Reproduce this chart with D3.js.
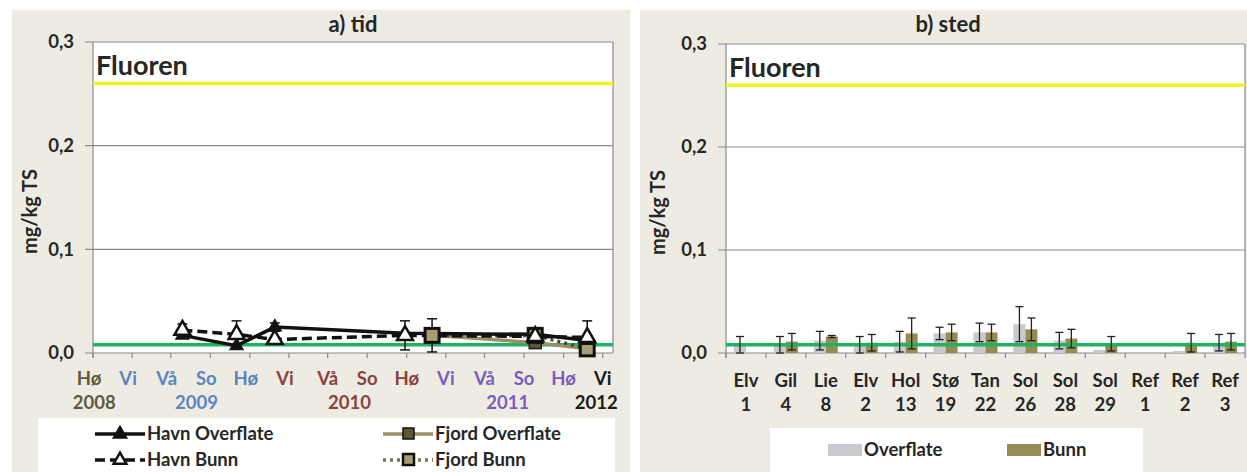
<!DOCTYPE html>
<html><head><meta charset="utf-8">
<script src="https://cdn.jsdelivr.net/npm/d3@7"></script>
<style>
body{margin:0;background:#fff;}
text{font-family:Lato,"Open Sans",sans-serif;font-weight:bold;}
</style>
</head><body>
<svg id="c" width="1247" height="472"></svg>
<script>
// ---------- shared ----------
const yTicks = [0, 0.1, 0.2, 0.3];
const yTickLabels = ["0,0", "0,1", "0,2", "0,3"];
const upperLimit = 0.26;   // yellow line
const lowerLimit = 0.008;  // green line
const chartLabel = "Fluoren";
const yTitle = "mg/kg TS";

// ---------- a) tid ----------
const seasonTickDates = ["2008-09-01","2008-12-01","2009-03-01","2009-06-01","2009-09-01","2009-12-01","2010-03-01","2010-06-01","2010-09-01","2010-12-01","2011-03-01","2011-06-01","2011-09-01","2011-12-01"];
const seasonLabels = ["Hø","Vi","Vå","So","Hø","Vi","Vå","So","Hø","Vi","Vå","So","Hø","Vi"];
const seasonYear = [0,1,1,1,1,2,2,2,2,3,3,3,3,4];
const yearLabels = ["2008","2009","2010","2011","2012"];
const yearLabelDates = ["2008-09-04","2009-04-30","2010-04-21","2011-04-24","2011-11-16"];
const yearColors = ["#5c5a3e","#5a86bf","#8a4240","#7d5cbf","#1a1a1a"];

const havnDates = ["2009-03-28","2009-08-01","2009-10-29","2010-08-28","2011-06-27","2011-10-26"];
const havnOverflate = [0.017, 0.007, 0.025, 0.019, 0.018, 0.012];
const havnOverflateErr = [0, 0, 0.004, 0, 0, 0];
const havnBunn = [0.022, 0.018, 0.013, 0.017, 0.016, 0.015];
const havnBunnErr = [0.006, 0.013, 0, 0.014, 0, 0.016];
const fjordDates = ["2010-10-30","2011-06-27","2011-10-26"];
const fjordOverflate = [0.017, 0.010, 0.004];
const fjordBunn = [0.017, 0.017, 0.004];
const fjordBunnErr = [0.016, 0.001, 0.001];

// ---------- b) sted ----------
const stedNames = ["Elv","Gil","Lie","Elv","Hol","Stø","Tan","Sol","Sol","Sol","Ref","Ref","Ref"];
const stedNums  = ["1","4","8","2","13","19","22","26","28","29","1","2","3"];
const overflate    = [0.008, 0.008, 0.012, 0.008, 0.011, 0.019, 0.020, 0.028, 0.012, 0.003, null, 0.002, 0.010];
const overflateErr = [0.008, 0.008, 0.009, 0.008, 0.010, 0.006, 0.009, 0.017, 0.008, 0, 0, 0, 0.008];
const bunn         = [null, 0.011, 0.016, 0.010, 0.019, 0.020, 0.020, 0.023, 0.014, 0.009, null, 0.010, 0.011];
const bunnErr      = [0, 0.008, 0.001, 0.008, 0.015, 0.008, 0.008, 0.011, 0.009, 0.007, 0, 0.009, 0.008];

const svg = d3.select("#c");
const parse = d3.timeParse("%Y-%m-%d");
const GRID = "#8a8a8a", BG = "#eeece2", INK = "#262626";
const FS = 18.5;

function panelFrame(px, pw, x0, x1, y, title, titleX) {
  svg.append("rect").attr("x", px).attr("y", 10).attr("width", pw).attr("height", 462).attr("fill", BG);
  svg.append("rect").attr("x", x0).attr("y", y(0.3)).attr("width", x1 - x0).attr("height", y(0) - y(0.3)).attr("fill", "#fff");
  const g = svg.append("g");
  g.selectAll("line.grid").data(yTicks).join("line")
    .attr("x1", x0 - 8).attr("x2", x1).attr("y1", d => y(d)).attr("y2", d => y(d))
    .attr("stroke", GRID).attr("stroke-width", 1.2);
  g.append("line").attr("x1", x0).attr("x2", x0).attr("y1", y(0.3)).attr("y2", y(0) + 5).attr("stroke", GRID).attr("stroke-width", 1.2);
  g.append("line").attr("x1", x1).attr("x2", x1).attr("y1", y(0.3)).attr("y2", y(0)).attr("stroke", GRID).attr("stroke-width", 1.2);
  g.selectAll("text.yt").data(yTicks).join("text")
    .attr("x", x0 - 19).attr("y", d => y(d)).attr("dy", "0.35em").attr("text-anchor", "end")
    .attr("font-size", FS).attr("fill", INK).text((d, i) => yTickLabels[i]);
  g.append("text").attr("transform", `translate(${px + 18},${(y(0.3) + y(0)) / 2 + 14}) rotate(-90)`)
    .attr("text-anchor", "middle").attr("dy", "0.35em").attr("font-size", 20).attr("fill", INK).text(yTitle);
  g.append("text").attr("x", titleX).attr("y", 32).attr("text-anchor", "middle").attr("font-size", 22).attr("fill", INK).text(title);
  g.append("line").attr("x1", x0).attr("x2", x1).attr("y1", y(upperLimit)).attr("y2", y(upperLimit)).attr("stroke", "#f2f21e").attr("stroke-width", 3.5);
  g.append("text").attr("x", x0 + 3).attr("y", y(upperLimit) - 8).attr("font-size", 27).attr("fill", INK).text(chartLabel);
}

// ================= LEFT =================
const xT = d3.scaleTime().domain([parse("2008-09-01"), parse("2011-12-25")]).range([93, 613]);
const yL = d3.scaleLinear().domain([0, 0.3]).range([353, 42]);
panelFrame(12, 618, 93, 613, yL, "a) tid", 353);

const gl = svg.append("g");
gl.selectAll("line.xt").data(seasonTickDates).join("line")
  .attr("x1", d => xT(parse(d))).attr("x2", d => xT(parse(d)))
  .attr("y1", yL(0)).attr("y2", yL(0) + 5).attr("stroke", GRID).attr("stroke-width", 1.2);
gl.selectAll("text.sl").data(seasonLabels).join("text")
  .attr("x", (d, i) => xT(parse(seasonTickDates[i])) - (i < 6 ? 4 : 0)).attr("y", 385)
  .attr("text-anchor", "middle").attr("font-size", FS)
  .attr("fill", (d, i) => yearColors[seasonYear[i]]).text(d => d);
gl.selectAll("text.yl").data(yearLabels).join("text")
  .attr("x", (d, i) => xT(parse(yearLabelDates[i]))).attr("y", 409)
  .attr("text-anchor", "middle").attr("font-size", FS)
  .attr("fill", (d, i) => yearColors[i]).text(d => d);
gl.append("line").attr("x1", 93).attr("x2", 613).attr("y1", yL(lowerLimit)).attr("y2", yL(lowerLimit)).attr("stroke", "#1fb35f").attr("stroke-width", 3.5);

const line = d3.line().x(d => xT(d.t)).y(d => yL(d.v));
const mk = (dates, vals, errs) => dates.map((d, i) => ({t: parse(d), v: vals[i], e: errs ? errs[i] : 0}));
const hO = mk(havnDates, havnOverflate, havnOverflateErr);
const hB = mk(havnDates, havnBunn, havnBunnErr);
const fO = mk(fjordDates, fjordOverflate);
const fB = mk(fjordDates, fjordBunn, fjordBunnErr);

function errBars(data) {
  const g = gl.append("g").attr("stroke", "#111").attr("stroke-width", 1.5);
  data.filter(d => d.e > 0).forEach(d => {
    const x = xT(d.t);
    g.append("line").attr("x1", x).attr("x2", x).attr("y1", yL(d.v + d.e)).attr("y2", yL(Math.max(0, d.v - d.e)));
    g.append("line").attr("x1", x - 5).attr("x2", x + 5).attr("y1", yL(d.v + d.e)).attr("y2", yL(d.v + d.e));
    g.append("line").attr("x1", x - 5).attr("x2", x + 5).attr("y1", yL(Math.max(0, d.v - d.e))).attr("y2", yL(Math.max(0, d.v - d.e)));
  });
}
const tri = d3.symbol().type(d3.symbolTriangle);
gl.append("path").attr("d", line(fO)).attr("fill", "none").attr("stroke", "#9a9068").attr("stroke-width", 3.5);
gl.append("path").attr("d", line(fB)).attr("fill", "none").attr("stroke", "#4a4630").attr("stroke-width", 3.5).attr("stroke-dasharray", "3,4");
gl.append("path").attr("d", line(hO)).attr("fill", "none").attr("stroke", "#111").attr("stroke-width", 3.5);
gl.append("path").attr("d", line(hB)).attr("fill", "none").attr("stroke", "#111").attr("stroke-width", 3.5).attr("stroke-dasharray", "10,5");
errBars(hO); errBars(hB); errBars(fB);
gl.selectAll("rect.fo").data(fO).join("rect")
  .attr("x", d => xT(d.t) - 6).attr("y", d => yL(d.v) - 6).attr("width", 12).attr("height", 12)
  .attr("fill", "#5c5836").attr("stroke", "#222").attr("stroke-width", 1.5);
gl.selectAll("rect.fb").data(fB).join("rect")
  .attr("x", d => xT(d.t) - 7).attr("y", d => yL(d.v) - 7).attr("width", 14).attr("height", 14)
  .attr("fill", "#a69d74").attr("stroke", "#111").attr("stroke-width", 3);
gl.selectAll("path.ho").data(hO).join("path")
  .attr("transform", d => `translate(${xT(d.t)},${yL(d.v)})`).attr("d", tri.size(70)())
  .attr("fill", "#111").attr("stroke", "#111").attr("stroke-width", 1.5);
gl.selectAll("path.hb").data(hB).join("path")
  .attr("transform", d => `translate(${xT(d.t)},${yL(d.v)})`).attr("d", tri.size(110)())
  .attr("fill", "#fff").attr("stroke", "#111").attr("stroke-width", 2.5);

// legend left
svg.append("rect").attr("x", 38).attr("y", 418).attr("width", 577).attr("height", 54).attr("fill", "#fff");
const legL = [
  {name: "Havn Overflate", x: 95, y: 434, stroke: "#111", dash: null, sym: "tri", fill: "#111", sw: 2},
  {name: "Havn Bunn", x: 95, y: 460, stroke: "#111", dash: "10,5", sym: "tri", fill: "#fff", sw: 2.5},
  {name: "Fjord Overflate", x: 383, y: 434, stroke: "#9a9068", dash: null, sym: "sq", fill: "#5c5836", sw: 1.5},
  {name: "Fjord Bunn", x: 383, y: 460, stroke: "#7a7350", dash: "3,4", sym: "sq", fill: "#a69d74", sw: 2.5}
];
legL.forEach(l => {
  const g = svg.append("g");
  g.append("line").attr("x1", l.x).attr("x2", l.x + 50).attr("y1", l.y).attr("y2", l.y)
    .attr("stroke", l.stroke).attr("stroke-width", 3.5).attr("stroke-dasharray", l.dash);
  if (l.sym === "tri") g.append("path").attr("transform", `translate(${l.x + 25},${l.y})`).attr("d", tri.size(70)()).attr("fill", l.fill).attr("stroke", "#111").attr("stroke-width", l.sw);
  else g.append("rect").attr("x", l.x + 20).attr("y", l.y - 6).attr("width", 11).attr("height", 11).attr("fill", l.fill).attr("stroke", "#111").attr("stroke-width", l.sw);
  g.append("text").attr("x", l.x + 52).attr("y", l.y).attr("dy", "0.35em").attr("font-size", FS).attr("fill", INK).text(l.name);
});

// ================= RIGHT =================
const xB = d3.scaleBand().domain(d3.range(stedNames.length)).range([726, 1245]);
const yR = d3.scaleLinear().domain([0, 0.3]).range([353, 44]);
panelFrame(640, 607, 726, 1245, yR, "b) sted", 948);
const gr = svg.append("g");
const bounds = d3.range(stedNames.length + 1).map(i => 726 + i * xB.step());
gr.selectAll("line.xt").data(bounds).join("line")
  .attr("x1", d => d).attr("x2", d => d).attr("y1", yR(0)).attr("y2", yR(0) + 5)
  .attr("stroke", GRID).attr("stroke-width", 1.2);
gr.selectAll("text.n1").data(stedNames).join("text")
  .attr("x", (d, i) => xB(i) + xB.bandwidth() / 2).attr("y", 387).attr("text-anchor", "middle")
  .attr("font-size", FS).attr("fill", INK).text(d => d);
gr.selectAll("text.n2").data(stedNums).join("text")
  .attr("x", (d, i) => xB(i) + xB.bandwidth() / 2).attr("y", 411).attr("text-anchor", "middle")
  .attr("font-size", FS).attr("fill", INK).text(d => d);

const xSub = d3.scaleBand().domain(["o", "b"]).range([0, 24]);
const series = [
  {key: "o", vals: overflate, errs: overflateErr, color: "#c9c9cf"},
  {key: "b", vals: bunn, errs: bunnErr, color: "#958b55"}
];
series.forEach(s => {
  s.vals.forEach((v, i) => {
    if (v == null) return;
    const x = xB(i) + (xB.bandwidth() - 24) / 2 + xSub(s.key);
    gr.append("rect").attr("x", x).attr("y", yR(v)).attr("width", xSub.bandwidth()).attr("height", yR(0) - yR(v)).attr("fill", s.color);
  });
});
gr.append("line").attr("x1", 726).attr("x2", 1245).attr("y1", yR(lowerLimit)).attr("y2", yR(lowerLimit)).attr("stroke", "#1fb35f").attr("stroke-width", 3.5);
series.forEach(s => {
  s.vals.forEach((v, i) => {
    if (v == null || !s.errs[i]) return;
    const cx = xB(i) + (xB.bandwidth() - 24) / 2 + xSub(s.key) + xSub.bandwidth() / 2;
    const top = yR(v + s.errs[i]), bot = yR(Math.max(0, v - s.errs[i]));
    const g = gr.append("g").attr("stroke", "#222").attr("stroke-width", 1.3);
    g.append("line").attr("x1", cx).attr("x2", cx).attr("y1", top).attr("y2", bot);
    g.append("line").attr("x1", cx - 4).attr("x2", cx + 4).attr("y1", top).attr("y2", top);
    g.append("line").attr("x1", cx - 4).attr("x2", cx + 4).attr("y1", bot).attr("y2", bot);
  });
});
// legend right
svg.append("rect").attr("x", 770).attr("y", 428).attr("width", 373).attr("height", 44).attr("fill", "#fff");
[{name: "Overflate", x: 828, color: "#c9c9cf"}, {name: "Bunn", x: 1007, color: "#958b55"}].forEach(l => {
  svg.append("rect").attr("x", l.x).attr("y", 444).attr("width", 34).attr("height", 12).attr("fill", l.color);
  svg.append("text").attr("x", l.x + 36).attr("y", 450).attr("dy", "0.35em").attr("font-size", FS).attr("fill", INK).text(l.name);
});
</script>
</body></html>
